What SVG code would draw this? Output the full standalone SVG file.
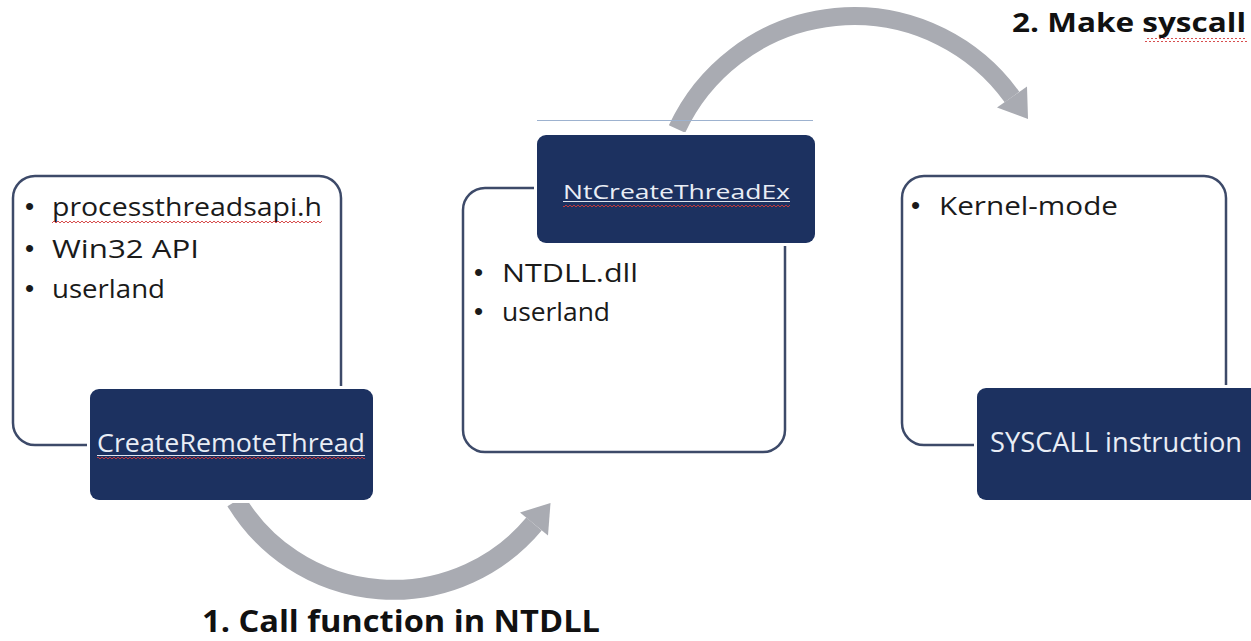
<svg xmlns="http://www.w3.org/2000/svg" width="1251" height="641" viewBox="0 0 1251 641">
  <defs>
    <pattern id="squiggle" width="4" height="4" patternUnits="userSpaceOnUse">
      <path d="M0 3 L2 1 L4 3" fill="none" stroke="#d23a3a" stroke-width="0.9"/>
    </pattern>
    <style>
      .outline { fill: #ffffff; stroke: #3d4a69; stroke-width: 2.5; }
      .dark { fill: #1c3160; stroke: #ffffff; stroke-width: 6; paint-order: stroke; }
      .body { font-family: "Open Sans", "Liberation Sans", sans-serif; fill: #1a1a1a; }
      .bullet { font-family: "Liberation Sans", sans-serif; fill: #1a1a1a; font-size: 26px; }
      .inv { font-family: "Open Sans", "Liberation Sans", sans-serif; fill: #e9edf5; }
      .label { font-family: "Open Sans", "Liberation Sans", sans-serif; font-weight: bold; fill: #111111; }
      .arc { fill: none; stroke: #a9abb2; }
      .head { fill: #a9abb2; }
      .sq { fill: url(#squiggle); }
      .ul { stroke: #dfe4ee; stroke-width: 1; }
    </style>
  </defs>
  <rect width="1251" height="641" fill="#ffffff"/>

  <g id="connectors">
    <path class="arc" stroke-width="20" d="M 236 501 A 183.5 183.5 0 0 0 534 524"/>
    <polygon class="head" points="520,512.5 548,535.5 550.5,503"/>
    <path class="arc" stroke-width="18" d="M 677 129 A 195 195 0 0 1 1012 97"/>
    <polygon class="head" points="997,107.5 1027,86.5 1028,119"/>
  </g>

  <g id="node-createremotethread">
    <rect class="outline" x="13" y="176" width="328" height="269" rx="22"/>
    <text class="bullet" x="25" y="215">•</text>
    <text class="body" x="52" y="216" font-size="25" textLength="270" lengthAdjust="spacingAndGlyphs">processthreadsapi.h</text>
    <rect class="sq" x="52" y="220" width="270" height="4"/>
    <text class="bullet" x="25" y="257">•</text>
    <text class="body" x="52" y="258" font-size="25" textLength="147" lengthAdjust="spacingAndGlyphs">Win32 API</text>
    <text class="bullet" x="25" y="297">•</text>
    <text class="body" x="52" y="298" font-size="25" textLength="113" lengthAdjust="spacingAndGlyphs">userland</text>
    <rect class="dark" x="90" y="389" width="283" height="111" rx="9"/>
    <text class="inv" x="97" y="452" font-size="25" textLength="268" lengthAdjust="spacingAndGlyphs">CreateRemoteThread</text>
    <line class="ul" x1="97" y1="455.5" x2="365" y2="455.5"/>
    <rect class="sq" x="97" y="457" width="268" height="4"/>
  </g>

  <g id="node-ntcreatethreadex">
    <line x1="537" y1="120.5" x2="813" y2="120.5" stroke="#9db2cf" stroke-width="1"/>
    <rect class="outline" x="463" y="188" width="322" height="264" rx="22"/>
    <text class="bullet" x="474" y="281">•</text>
    <text class="body" x="502" y="282" font-size="25" textLength="136" lengthAdjust="spacingAndGlyphs">NTDLL.dll</text>
    <text class="bullet" x="474" y="320">•</text>
    <text class="body" x="502" y="321" font-size="25" textLength="108" lengthAdjust="spacingAndGlyphs">userland</text>
    <rect class="dark" x="537" y="135" width="278" height="108" rx="9"/>
    <text class="inv" x="563" y="199" font-size="20" textLength="227" lengthAdjust="spacingAndGlyphs">NtCreateThreadEx</text>
    <line class="ul" x1="563" y1="201.5" x2="790" y2="201.5"/>
    <rect class="sq" x="563" y="203" width="227" height="4"/>
  </g>

  <g id="node-syscall">
    <rect class="outline" x="902" y="176" width="324" height="269" rx="22"/>
    <text class="bullet" x="911" y="214">•</text>
    <text class="body" x="939" y="215" font-size="25" textLength="179" lengthAdjust="spacingAndGlyphs">Kernel-mode</text>
    <rect class="dark" x="977" y="388" width="290" height="112" rx="9"/>
    <text class="inv" x="990" y="452" font-size="28" textLength="252" lengthAdjust="spacingAndGlyphs">SYSCALL instruction</text>
  </g>

  <g id="labels">
    <text class="label" x="1012" y="32" font-size="27" textLength="234" lengthAdjust="spacingAndGlyphs">2.  Make syscall</text>
    <rect class="sq" x="1145" y="38" width="102" height="4"/>
    <text class="label" x="202" y="632" font-size="30" textLength="398" lengthAdjust="spacingAndGlyphs">1. Call function in NTDLL</text>
  </g>
</svg>
